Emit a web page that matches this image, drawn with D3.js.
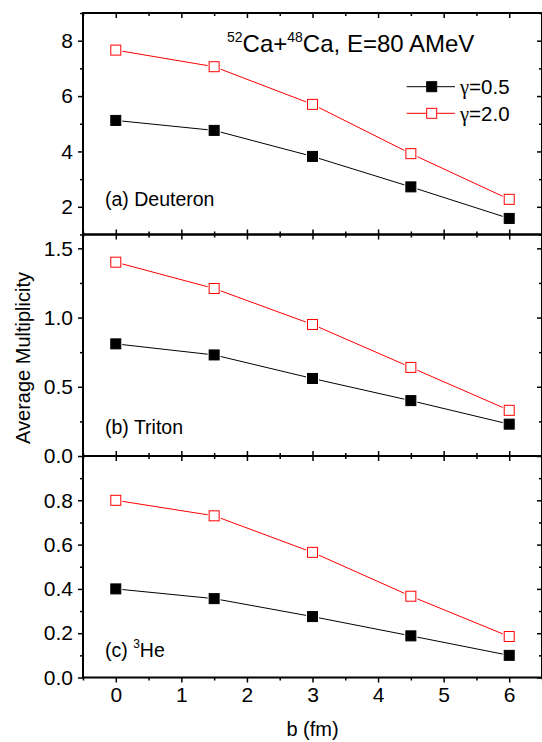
<!DOCTYPE html>
<html>
<head>
<meta charset="utf-8">
<script src="https://cdn.jsdelivr.net/npm/d3@7"></script>
<style>
  body { margin: 0; background: #fff; }
  svg { display: block; }
  text { font-family: "Liberation Sans", Arial, sans-serif; fill: #000; }
</style>
</head>
<body>
<svg></svg>
<script>
// impact parameter b (fm)
const bVals = [0, 1.5, 3, 4.5, 6];
const xTicks = [0, 1, 2, 3, 4, 5, 6];

// gamma = 0.5 (black) / gamma = 2.0 (red)
const deuteronLow  = [5.12, 4.76, 3.82, 2.72, 1.58];
const deuteronHigh = [7.66, 7.06, 5.70, 3.92, 2.27];
const tritonLow    = [0.81, 0.73, 0.56, 0.40, 0.23];
const tritonHigh   = [1.40, 1.21, 0.95, 0.64, 0.33];
const he3Low       = [0.40, 0.356, 0.275, 0.188, 0.10];
const he3High      = [0.80, 0.73, 0.565, 0.367, 0.185];

const seriesNames = ['γ=0.5', 'γ=2.0'];

const svg = d3.select('svg');
const width = 542;
const height = 742;
svg.attr('width', width).attr('height', height);

const left = 83, right = 542;
const top0 = 13, panelH = 221.5;

const x = d3.scaleLinear().domain([-0.5, 6.5]).range([left, right]);
const xMinor = d3.range(-0.5, 6.51, 0.5).filter(v => !xTicks.includes(v));

const panels = [
  { low: deuteronLow, high: deuteronHigh, domain: [1, 9],
    major: [2, 4, 6, 8], minor: [1, 3, 5, 7, 9], fmt: d3.format('d'),
    label: '(a) Deuteron', labelY: 193 },
  { low: tritonLow, high: tritonHigh, domain: [0, 1.6],
    major: [0, 0.5, 1.0, 1.5], minor: [0.25, 0.75, 1.25], fmt: d3.format('.1f'),
    label: '(b) Triton', labelY: 199 },
  { low: he3Low, high: he3High, domain: [0, 1.0],
    major: [0, 0.2, 0.4, 0.6, 0.8], minor: [0.1, 0.3, 0.5, 0.7, 0.9], fmt: d3.format('.1f'),
    label: '(c) ', labelY: 201, sup: '3', after: 'He' }
];

function styleAxis(sel, withText) {
  sel.select('.domain').remove();
  sel.selectAll('.tick line').attr('stroke', '#000').attr('stroke-width', 1.5);
  if (withText) sel.selectAll('.tick text').attr('font-size', '21px').attr('fill', '#000')
    .style('font-family', '"Liberation Sans", Arial, sans-serif');
}

const line = d3.line();

panels.forEach((p, i) => {
  const pTop = top0 + i * panelH;
  const pBot = pTop + panelH;
  const y = d3.scaleLinear().domain(p.domain).range([pBot, pTop]);
  const g = svg.append('g');

  // left axis (outward)
  g.append('g').attr('transform', `translate(${left},0)`)
    .call(d3.axisLeft(y).tickValues(p.major).tickSize(5).tickPadding(5).tickFormat(p.fmt))
    .call(s => styleAxis(s, true));
  g.append('g').attr('transform', `translate(${left},0)`)
    .call(d3.axisLeft(y).tickValues(p.minor).tickSize(3).tickFormat(''))
    .call(s => styleAxis(s, false));

  // right axis (inward)
  g.append('g').attr('transform', `translate(${right},0)`)
    .call(d3.axisLeft(y).tickValues(p.major).tickSize(5).tickFormat(''))
    .call(s => styleAxis(s, false));
  g.append('g').attr('transform', `translate(${right},0)`)
    .call(d3.axisLeft(y).tickValues(p.minor).tickSize(3).tickFormat(''))
    .call(s => styleAxis(s, false));

  // top axis (inward)
  g.append('g').attr('transform', `translate(0,${pTop})`)
    .call(d3.axisBottom(x).tickValues(xTicks).tickSize(5).tickFormat(''))
    .call(s => styleAxis(s, false));
  g.append('g').attr('transform', `translate(0,${pTop})`)
    .call(d3.axisBottom(x).tickValues(xMinor).tickSize(3).tickFormat(''))
    .call(s => styleAxis(s, false));

  // bottom axis
  if (i < panels.length - 1) {
    g.append('g').attr('transform', `translate(0,${pBot})`)
      .call(d3.axisTop(x).tickValues(xTicks).tickSize(5).tickFormat(''))
      .call(s => styleAxis(s, false));
    g.append('g').attr('transform', `translate(0,${pBot})`)
      .call(d3.axisTop(x).tickValues(xMinor).tickSize(3).tickFormat(''))
      .call(s => styleAxis(s, false));
  } else {
    g.append('g').attr('transform', `translate(0,${pBot})`)
      .call(d3.axisBottom(x).tickValues(xTicks).tickSize(5).tickPadding(5).tickFormat(d3.format('d')))
      .call(s => styleAxis(s, true));
    g.append('g').attr('transform', `translate(0,${pBot})`)
      .call(d3.axisBottom(x).tickValues(xMinor).tickSize(3).tickFormat(''))
      .call(s => styleAxis(s, false));
  }

  // frame
  g.append('rect')
    .attr('x', left).attr('y', pTop)
    .attr('width', right - left).attr('height', panelH)
    .attr('fill', 'none').attr('stroke', '#000').attr('stroke-width', 2);

  // series
  const series = [
    { vals: p.low, color: '#000', fill: '#000' },
    { vals: p.high, color: '#ff0000', fill: '#fff' }
  ];
  series.forEach(s => {
    const pts = bVals.map((b, k) => [x(b), y(s.vals[k])]);
    g.append('path').attr('d', line(pts))
      .attr('fill', 'none').attr('stroke', s.color).attr('stroke-width', 1);
    g.selectAll(null).data(pts).enter().append('rect')
      .attr('x', d => d[0] - 6.5).attr('y', d => d[1] - 6.5)
      .attr('width', 13).attr('height', 13).attr('fill', '#fff');
    g.selectAll(null).data(pts).enter().append('rect')
      .attr('x', d => d[0] - 5).attr('y', d => d[1] - 5)
      .attr('width', 10).attr('height', 10)
      .attr('fill', s.fill).attr('stroke', s.color).attr('stroke-width', 1);
  });

  // panel label
  const t = g.append('text').attr('x', 105).attr('y', pTop + p.labelY)
    .attr('font-size', '19.5px').text(p.label);
  if (p.sup) {
    t.append('tspan').attr('font-size', '12px').attr('dy', -9).text(p.sup);
    t.append('tspan').attr('dy', 9).text(p.after);
  }
});

// title
const title = svg.append('text').attr('x', 227).attr('y', 52).attr('font-size', '24px');
title.append('tspan').attr('font-size', '14px').attr('dy', -10).text('52');
title.append('tspan').attr('dy', 10).text('Ca+');
title.append('tspan').attr('font-size', '14px').attr('dy', -10).text('48');
title.append('tspan').attr('dy', 10).text('Ca, E=80 AMeV');

// legend
const legend = svg.append('g');
const legendStyle = [
  { color: '#000', fill: '#000' },
  { color: '#ff0000', fill: '#fff' }
];
seriesNames.forEach((name, k) => {
  const cy = 86.7 + k * 26.6;
  const st = legendStyle[k];
  legend.append('line').attr('x1', 406.7).attr('x2', 455).attr('y1', cy).attr('y2', cy)
    .attr('stroke', st.color).attr('stroke-width', 1);
  legend.append('rect').attr('x', 431.7 - 5).attr('y', cy - 5).attr('width', 10).attr('height', 10)
    .attr('fill', st.fill).attr('stroke', st.color).attr('stroke-width', 1);
  const t = legend.append('text').attr('x', 460).attr('y', cy + 7.3).attr('font-size', '20.5px');
  t.append('tspan').style('font-family', '"Liberation Serif", "Times New Roman", serif').text(name.slice(0, 1));
  t.append('tspan').text(name.slice(1));
});

// axis titles
svg.append('text').attr('x', (left + right) / 2).attr('y', 736)
  .attr('text-anchor', 'middle').attr('font-size', '20px').text('b (fm)');
svg.append('text')
  .attr('transform', 'translate(29.5,358) rotate(-90)')
  .attr('text-anchor', 'middle').attr('font-size', '20px').text('Average Multiplicity');
</script>
</body>
</html>
